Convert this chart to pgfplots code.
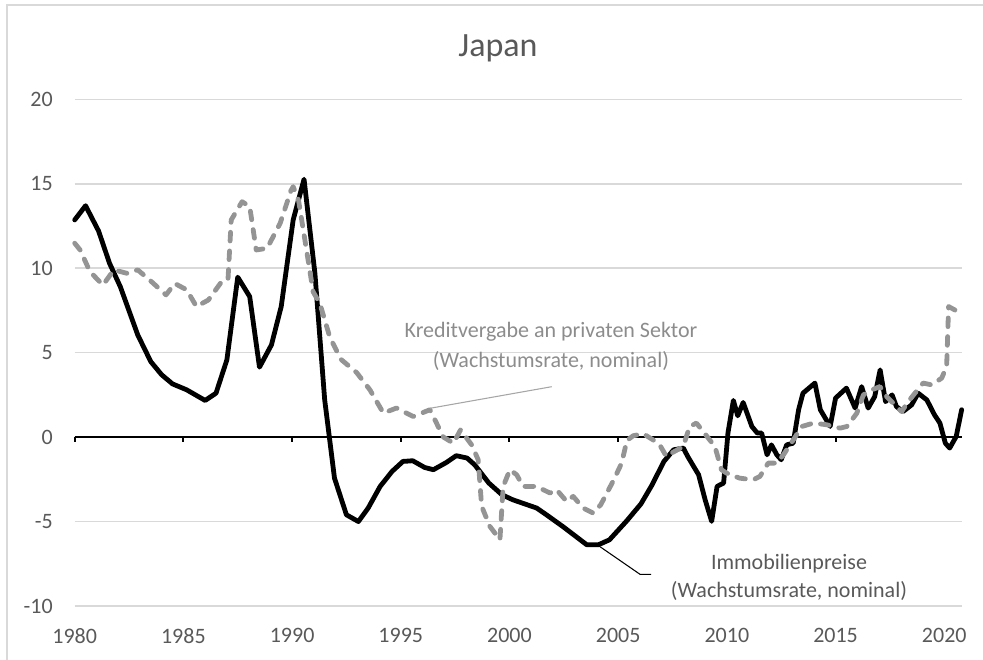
\documentclass[border=0pt]{standalone}
\usepackage{pgfplots}
\pgfplotsset{compat=1.18}
\usepackage{fontspec}
\setmainfont{Carlito}
\definecolor{gridc}{HTML}{D9D9D9}
\definecolor{txt}{HTML}{595959}
\definecolor{dashc}{HTML}{949494}
\definecolor{annc}{HTML}{8C8C8C}
\definecolor{leadc}{HTML}{A6A6A6}
\begin{document}
\begin{tikzpicture}
\begin{scope}[x=0.75pt,y=0.75pt]
\path[use as bounding box] (0,0) rectangle (983,660);
\draw[gridc, line width=1pt] (7,0) -- (7,655) -- (983,655);
\end{scope}
\begin{axis}[
  at={(56.025pt,40.5pt)}, anchor=south west,
  scale only axis, width=665.7pt, height=380pt,
  xmin=1980, xmax=2020.83, ymin=-10, ymax=20,
  clip=false,
  axis line style={draw=none},
  tick style={draw=none},
  xtick={1980,1985,...,2020},
  ytick={-10,-5,...,20},
  xticklabel style={/pgf/number format/1000 sep={}, inner sep=0pt, anchor=north, yshift=-16.7pt},
  yticklabel style={inner sep=0pt, anchor=east, xshift=-16.3pt},
  /pgf/number format/assume math mode=true,
  ticklabel style={font=\fontsize{16.5}{19}\selectfont, text=txt},
  ymajorgrids,
  major grid style={gridc, line width=1.1pt},
  extra y ticks={0},
  extra y tick labels={},
  extra y tick style={grid=major, major grid style={black, line width=1.9pt}},
]
\addplot[black, line width=3.6pt, line join=round, line cap=round] coordinates {
(1980.0,12.86) (1980.5,13.7) (1981.1,12.2) (1981.6,10.3) (1982.1,8.9) (1982.9,6.05)
(1983.5,4.47) (1984.0,3.69) (1984.5,3.15) (1985.15,2.8) (1986.0,2.17) (1986.5,2.6)
(1987.0,4.57) (1987.5,9.47) (1988.05,8.32) (1988.5,4.14) (1989.05,5.46) (1989.5,7.73)
(1990.05,12.86) (1990.55,15.27) (1991.05,9.7) (1991.5,2.2) (1991.95,-2.43) (1992.5,-4.6)
(1993.05,-5.0) (1993.5,-4.2) (1994.05,-2.92) (1994.6,-2.03) (1995.1,-1.44) (1995.55,-1.4)
(1996.1,-1.8) (1996.5,-1.93) (1997.1,-1.5) (1997.55,-1.1) (1998.05,-1.24) (1998.4,-1.64)
(1999.05,-2.72) (1999.65,-3.41) (2000.15,-3.71) (2001.25,-4.2) (2001.7,-4.6) (2002.45,-5.29)
(2003.55,-6.37) (2004.1,-6.37) (2004.6,-6.08) (2005.4,-4.95) (2006.05,-3.95) (2006.55,-2.85)
(2007.1,-1.45) (2007.55,-0.75) (2008.0,-0.65) (2008.2,-1.15) (2008.7,-2.23) (2009.0,-3.71)
(2009.3,-4.99) (2009.55,-2.92) (2009.85,-2.72) (2010.05,0.24) (2010.3,2.17) (2010.5,1.26)
(2010.75,2.05) (2011.15,0.63) (2011.4,0.24) (2011.6,0.24) (2011.85,-1.05) (2012.05,-0.46)
(2012.3,-1.05) (2012.5,-1.34) (2012.75,-0.46) (2013.05,-0.36) (2013.3,1.62) (2013.5,2.6)
(2014.05,3.2) (2014.3,1.62) (2014.75,0.63) (2015.0,2.31) (2015.5,2.9) (2015.9,1.72)
(2016.2,2.99) (2016.5,1.72) (2016.8,2.4) (2017.05,3.98) (2017.3,2.1) (2017.6,2.5)
(2017.8,1.81) (2018.1,1.51) (2018.5,1.91) (2018.8,2.6) (2019.2,2.2) (2019.55,1.32)
(2019.8,0.83) (2020.05,-0.36) (2020.25,-0.65) (2020.55,0.04) (2020.8,1.62)
};
\addplot[dashc, line width=3.6pt, line join=round, line cap=round, dash pattern=on 6.5pt off 7.5pt] coordinates {
(1980.0,11.48) (1980.25,11.08) (1980.7,9.8) (1981.3,9.0) (1981.8,9.9) (1982.4,9.7)
(1982.9,9.9) (1983.45,9.3) (1984.2,8.42) (1984.6,9.1) (1985.15,8.72) (1985.6,7.73)
(1986.15,8.12) (1986.7,9.1) (1987.05,9.3) (1987.2,12.86) (1987.7,13.94) (1988.05,13.65)
(1988.35,11.08) (1988.85,11.18) (1989.45,12.66) (1989.95,14.6) (1990.05,14.83) (1990.3,14.0)
(1990.97,8.6) (1991.28,7.9) (1991.74,5.9) (1992.25,4.6) (1992.97,3.82) (1993.58,2.8)
(1994.2,1.42) (1994.8,1.72) (1995.57,1.22) (1996.34,1.62) (1996.96,0.0) (1997.42,-0.36)
(1997.75,0.43) (1998.26,-0.46) (1998.56,-1.34) (1998.72,-4.1) (1999.1,-5.29) (1999.56,-6.08)
(1999.71,-2.92) (2000.02,-1.93) (2000.33,-2.23) (2000.63,-2.92) (2001.25,-2.92) (2001.86,-3.31)
(2002.17,-3.12) (2002.63,-3.81) (2002.93,-3.51) (2003.39,-4.2) (2003.85,-4.5) (2004.2,-4.0)
(2004.77,-2.6) (2005.16,-1.54) (2005.4,-0.2) (2005.69,0.08) (2006.15,0.2) (2006.6,-0.16)
(2006.91,-0.46) (2007.22,-1.15) (2007.45,-0.95) (2007.99,-0.56) (2008.29,0.63) (2008.6,0.83)
(2008.91,0.33) (2009.45,-0.56) (2009.75,-1.93) (2009.98,-2.13) (2010.59,-2.43) (2011.21,-2.53)
(2011.52,-2.33) (2011.9,-1.54) (2012.29,-1.54) (2012.6,-1.05) (2013.06,-0.16) (2013.45,0.63)
(2013.98,0.83) (2014.6,0.73) (2015.21,0.53) (2015.52,0.63) (2015.98,1.42) (2016.28,2.5)
(2016.67,2.8) (2017.04,2.99) (2017.35,2.4) (2017.73,1.91) (2018.04,1.51) (2018.34,2.1)
(2018.65,2.6) (2019.03,3.2) (2019.42,3.09) (2019.88,3.49) (2020.11,4.18) (2020.2,7.73)
(2020.75,7.34)
};
\pgfplotsinvokeforeach{1980,1985,1990,1995,2000,2005,2010,2015,2020}{
  \draw[black, line width=1.5pt] (axis cs:#1,0) -- ([yshift=-4pt]axis cs:#1,0);
}
\end{axis}
\begin{scope}[x=0.75pt,y=0.75pt]
\node[anchor=base, text=txt, font=\fontsize{25.5}{30}\selectfont] at (498,603.3) {Japan};
\draw[leadc, line width=0.8pt] (430,251.7) -- (551.7,273.3);
\draw[black, line width=0.8pt] (600,113.3) -- (640,85.7) -- (651,85.7);
\node[anchor=base, text=annc, font=\fontsize{16.5}{19}\selectfont] at (551,322.7) {Kreditvergabe an privaten Sektor};
\node[anchor=base, text=annc, font=\fontsize{16.5}{19}\selectfont] at (551,292.7) {(Wachstumsrate, nominal)};
\node[anchor=base, text=txt, font=\fontsize{16.5}{19}\selectfont] at (789,90) {Immobilienpreise};
\node[anchor=base, text=txt, font=\fontsize{16.5}{19}\selectfont] at (789,62.5) {(Wachstumsrate, nominal)};
\end{scope}
\end{tikzpicture}
\end{document}
